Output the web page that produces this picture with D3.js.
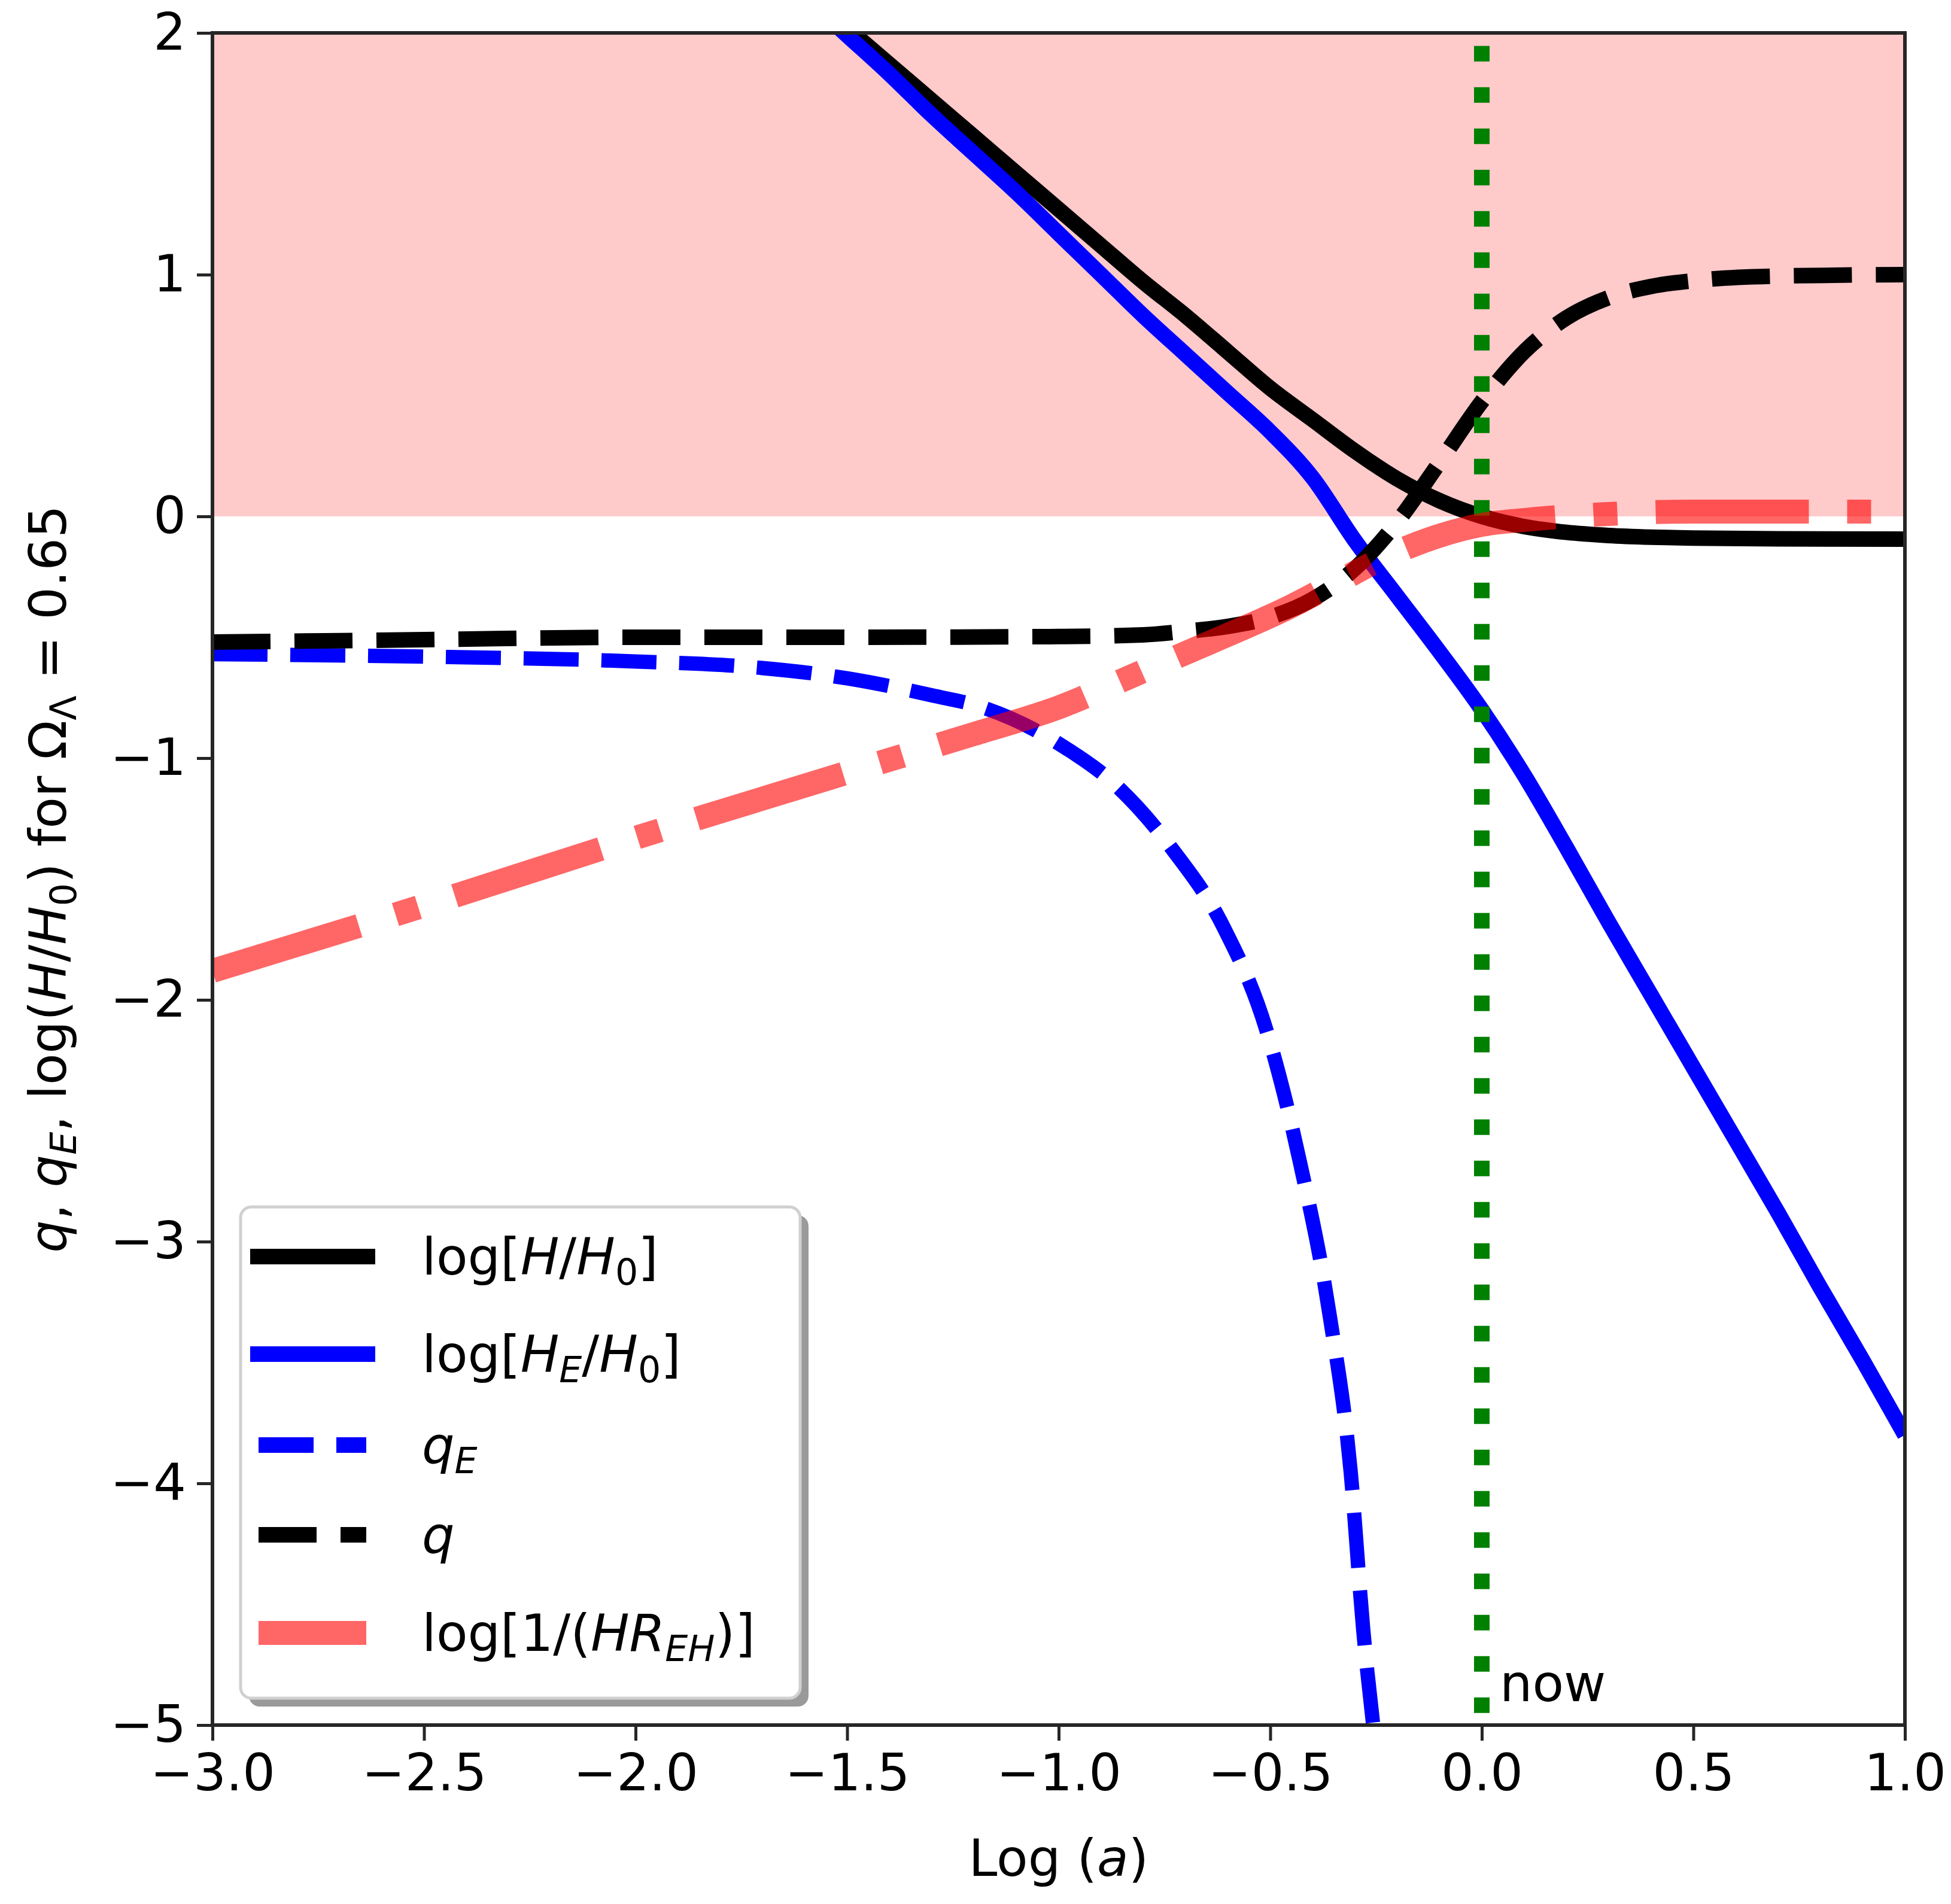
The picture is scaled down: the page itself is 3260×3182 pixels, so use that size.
<!DOCTYPE html>
<html>
<head>
<meta charset="utf-8">
<script src="https://cdn.jsdelivr.net/npm/d3@7"></script>
<style>
  html, body { margin: 0; padding: 0; background: #fff; }
  svg { display: block; font-family: "DejaVu Sans", sans-serif; }
</style>
</head>
<body>
<div id="chart"></div>
<script>
// values, x = log(a)
const logH = [
  [-1.6, 2.17], [-1.5, 2.02], [-1.4, 1.87], [-1.3, 1.72], [-1.2, 1.57], [-1.1, 1.42],
  [-1.0, 1.27], [-0.9, 1.12], [-0.8, 0.97], [-0.7, 0.83], [-0.6, 0.68], [-0.5, 0.53],
  [-0.4, 0.40], [-0.3, 0.27], [-0.2, 0.155], [-0.1, 0.065], [0.0, 0.0], [0.1, -0.042],
  [0.2, -0.066], [0.3, -0.079], [0.4, -0.086], [0.5, -0.09], [0.7, -0.093], [1.0, -0.094]
];
const logHE = [
  [-1.6, 2.15], [-1.5, 1.99], [-1.4, 1.83], [-1.3, 1.66], [-1.2, 1.50], [-1.1, 1.34],
  [-1.0, 1.17], [-0.9, 1.00], [-0.8, 0.83], [-0.7, 0.67], [-0.6, 0.51], [-0.5, 0.35],
  [-0.4, 0.16], [-0.3, -0.10], [-0.2, -0.33], [-0.1, -0.56], [0.0, -0.80], [0.1, -1.07],
  [0.2, -1.37], [0.3, -1.68], [0.4, -1.98], [0.5, -2.28], [0.6, -2.58], [0.7, -2.88],
  [0.8, -3.19], [0.9, -3.49], [1.0, -3.80]
];
const qE = [
  [-3.0, -0.57], [-2.5, -0.58], [-2.0, -0.60], [-1.75, -0.62], [-1.5, -0.67], [-1.3, -0.74],
  [-1.18, -0.79], [-1.0, -0.94], [-0.86, -1.12], [-0.73, -1.38], [-0.61, -1.70], [-0.51, -2.12],
  [-0.43, -2.67], [-0.36, -3.30], [-0.31, -3.95], [-0.28, -4.61], [-0.25, -5.1]
];
const q = [
  [-3.0, -0.52], [-2.5, -0.51], [-2.0, -0.50], [-1.5, -0.50], [-1.0, -0.497], [-0.8, -0.49],
  [-0.7, -0.475], [-0.6, -0.455], [-0.5, -0.417], [-0.4, -0.343], [-0.3, -0.216], [-0.2, -0.023],
  [-0.1, 0.223], [0.0, 0.475], [0.1, 0.681], [0.2, 0.821], [0.3, 0.905], [0.4, 0.951],
  [0.5, 0.975], [0.7, 0.994], [1.0, 1.0]
];
const logInvHR = [
  [-3.0, -1.88], [-2.5, -1.61], [-2.0, -1.33], [-1.5, -1.06], [-1.2, -0.90], [-1.0, -0.79],
  [-0.8, -0.64], [-0.6, -0.49], [-0.46, -0.38], [-0.34, -0.27], [-0.23, -0.17], [-0.1, -0.08],
  [0.0, -0.035], [0.1, -0.015], [0.3, 0.01], [0.5, 0.02], [1.0, 0.02]
];
const nowLine = [[0, -4.95], [0, 2]];
const shadedBand = [0, 2];
const xTicks = [-3.0, -2.5, -2.0, -1.5, -1.0, -0.5, 0.0, 0.5, 1.0];
const yTicks = [2, 1, 0, -1, -2, -3, -4, -5];

const W = 3260, H = 3182;
const m = { left: 355, right: 77, top: 55, bottom: 299 };
const FS = 86;

const x = d3.scaleLinear().domain([-3, 1]).range([m.left, W - m.right]);
const y = d3.scaleLinear().domain([-5, 2]).range([H - m.bottom, m.top]);

const svg = d3.select('#chart').append('svg')
  .attr('width', W).attr('height', H)
  .attr('viewBox', [0, 0, W, H]);

svg.append('defs').append('clipPath').attr('id', 'plot')
  .append('rect')
  .attr('x', x(-3)).attr('y', y(2))
  .attr('width', x(1) - x(-3)).attr('height', y(-5) - y(2));

const plot = svg.append('g').attr('clip-path', 'url(#plot)');

// shaded region 0..2
plot.append('rect')
  .attr('x', x(-3)).attr('width', x(1) - x(-3))
  .attr('y', y(shadedBand[1])).attr('height', y(shadedBand[0]) - y(shadedBand[1]))
  .attr('fill', '#ffcaca');

const line = d3.line().x(d => x(d[0])).y(d => y(d[1])).curve(d3.curveMonotoneX);
const vline = d3.line().x(d => x(d[0])).y(d => y(d[1]));

const series = [
  { data: logH, color: '#000', w: 26, dash: null },
  { data: logHE, color: '#0000ff', w: 26, dash: null },
  { data: qE, color: '#0000ff', w: 24, dash: '92,38' },
  { data: q, color: '#000', w: 26, dash: '97,40' },
];
series.forEach(s => {
  plot.append('path')
    .attr('d', line(s.data))
    .attr('fill', 'none')
    .attr('stroke', s.color)
    .attr('stroke-width', s.w)
    .attr('stroke-dasharray', s.dash);
});

plot.append('path')
  .attr('d', vline(nowLine))
  .attr('fill', 'none')
  .attr('stroke', '#008000')
  .attr('stroke-width', 26)
  .attr('stroke-dasharray', '26,43');

plot.append('path')
  .attr('d', line(logInvHR))
  .attr('fill', 'none')
  .attr('stroke', '#ff0000')
  .attr('stroke-opacity', 0.6)
  .attr('stroke-width', 40)
  .attr('stroke-dasharray', '256,64,40,64');

// axes
const xAxis = svg.append('g')
  .attr('transform', `translate(0,${y(-5)})`)
  .call(d3.axisBottom(x).tickValues(xTicks).tickSize(26).tickPadding(22)
    .tickFormat(d => d3.format('.1f')(d).replace('-', '\u2212')));
const yAxis = svg.append('g')
  .attr('transform', `translate(${x(-3)},0)`)
  .call(d3.axisLeft(y).tickValues(yTicks).tickSize(26).tickPadding(18)
    .tickFormat(d => String(d).replace('-', '\u2212')));
[xAxis, yAxis].forEach(g => {
  g.select('.domain').remove();
  g.selectAll('.tick line').attr('stroke', '#262626').attr('stroke-width', 5);
  g.selectAll('.tick text').attr('font-size', FS).attr('fill', '#000')
    .attr('font-family', '"DejaVu Sans", sans-serif');
});

// frame
svg.append('rect')
  .attr('x', x(-3)).attr('y', y(2))
  .attr('width', x(1) - x(-3)).attr('height', y(-5) - y(2))
  .attr('fill', 'none').attr('stroke', '#262626').attr('stroke-width', 6);

// "now" label
svg.append('text')
  .attr('x', x(0) + 30).attr('y', y(-5) - 40)
  .attr('font-size', FS).text('now');

// x label
const xl = svg.append('text')
  .attr('x', (x(-3) + x(1)) / 2).attr('y', 3135)
  .attr('text-anchor', 'middle').attr('font-size', FS);
xl.append('tspan').text('Log (');
xl.append('tspan').attr('font-style', 'italic').text('a');
xl.append('tspan').text(')');

// y label with sub/italic parts
function richText(t, parts, size) {
  parts.forEach(p => {
    const ts = t.append('tspan').text(p.t);
    if (p.i) ts.attr('font-style', 'italic');
    if (p.sub) ts.attr('font-size', size * 0.7).attr('dy', size * 0.2);
    else if (p.after) ts.attr('dy', -size * 0.2);
  });
}
const yl = svg.append('text')
  .attr('transform', `translate(110,${(y(2) + y(-5)) / 2}) rotate(-90)`)
  .attr('text-anchor', 'middle').attr('font-size', FS);
richText(yl, [
  { t: 'q', i: true }, { t: ', ' }, { t: 'q', i: true }, { t: 'E', i: true, sub: true },
  { t: ', log(', after: true }, { t: 'H', i: true }, { t: '/' }, { t: 'H', i: true },
  { t: '0', sub: true }, { t: ')  for \u03A9', after: true }, { t: '\u039B', sub: true },
  { t: ' = 0.65', after: true }
], FS);

// legend
const lg = svg.append('g').attr('transform', 'translate(402,2017)');
const LW = 935, LH = 821;
lg.append('rect').attr('x', 14).attr('y', 14).attr('width', LW).attr('height', LH)
  .attr('rx', 18).attr('fill', '#9a9a9a');
lg.append('rect').attr('width', LW).attr('height', LH).attr('rx', 18)
  .attr('fill', '#fff').attr('stroke', '#d0d0d0').attr('stroke-width', 5);
const legendItems = [
  { color: '#000', w: 26, dash: null, parts: [{ t: 'log[' }, { t: 'H', i: true }, { t: '/' }, { t: 'H', i: true }, { t: '0', sub: true }, { t: ']', after: true }] },
  { color: '#0000ff', w: 26, dash: null, parts: [{ t: 'log[' }, { t: 'H', i: true }, { t: 'E', i: true, sub: true }, { t: '/', after: true }, { t: 'H', i: true }, { t: '0', sub: true }, { t: ']', after: true }] },
  { color: '#0000ff', w: 26, dash: '92,38', parts: [{ t: 'q', i: true }, { t: 'E', i: true, sub: true }] },
  { color: '#000', w: 26, dash: '97,40', parts: [{ t: 'q', i: true }] },
  { color: '#ff0000', op: 0.6, w: 40, dash: '256,64,40,64', parts: [{ t: 'log[1/(' }, { t: 'H', i: true }, { t: 'R', i: true }, { t: 'EH', i: true, sub: true }, { t: ')]', after: true }] }
];
const rowY = [83, 246, 398, 548, 712];
legendItems.forEach((it, i) => {
  const x0 = it.dash ? 30 : 16;
  lg.append('line')
    .attr('x1', x0).attr('x2', it.dash === null ? 225 : 210)
    .attr('y1', rowY[i]).attr('y2', rowY[i])
    .attr('stroke', it.color).attr('stroke-opacity', it.op || 1)
    .attr('stroke-width', it.w).attr('stroke-dasharray', it.dash);
  const t = lg.append('text').attr('x', 303).attr('y', rowY[i] + 30).attr('font-size', FS);
  richText(t, it.parts, FS);
});
</script>
</body>
</html>
